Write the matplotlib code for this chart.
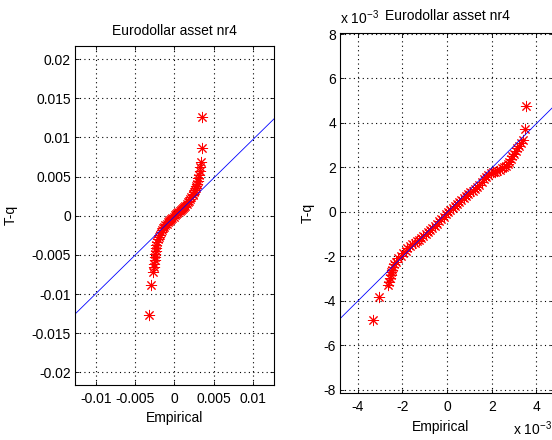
import numpy as np
import matplotlib.pyplot as plt

plt.rcParams['font.family'] = ['Liberation Sans', 'DejaVu Sans']
plt.rcParams['mathtext.fontset'] = 'custom'
plt.rcParams['mathtext.rm'] = 'Liberation Sans'
plt.rcParams['axes.unicode_minus'] = False

title = 'Eurodollar asset nr4'

# left panel, values in units of 1e-3
left_x = [3.5, 3.5, 3.35, 3.25, 3.2, 3.1, 3.05, 2.95, 2.9, 2.8, 2.7, 2.6, 2.5, 2.4,
          2.3, 2.15, 2.0, 1.85, 1.7, 1.55, 1.4, 1.25, 1.1, 0.95, 0.8, 0.65, 0.5, 0.35,
          0.2, 0.05, -0.1, -0.25, -0.4, -0.55, -0.7, -0.85, -1.0, -1.15, -1.3, -1.45,
          -1.6, -1.75, -1.9, -2.0, -2.1, -2.2, -2.3, -2.35, -2.4, -2.45, -2.5, -2.5,
          -2.55, -2.6, -2.7, -3.0, -3.3]
left_y = [12.6, 8.7, 6.9, 6.2, 5.7, 5.2, 4.8, 4.4, 4.1, 3.8, 3.5, 3.25, 3.0, 2.8,
          2.6, 2.35, 2.1, 1.9, 1.7, 1.5, 1.3, 1.15, 1.0, 0.85, 0.7, 0.55, 0.42, 0.3,
          0.17, 0.05, -0.1, -0.25, -0.4, -0.55, -0.7, -0.85, -1.0, -1.2, -1.4, -1.6,
          -1.85, -2.1, -2.4, -2.7, -3.0, -3.35, -3.7, -4.1, -4.5, -4.9, -5.3, -5.7,
          -6.1, -6.6, -7.2, -8.8, -12.7]
left_line_x = [-12.7, 12.7]
left_line_y = [-12.6, 12.4]

# right panel, values in units of 1e-3
right_x = [-3.31, -3.04, -2.64, -2.6, -2.55, -2.52, -2.49, -2.44, -2.4, -2.35, -2.3,
           -2.2, -2.07, -1.95, -1.85, -1.77, -1.65, -1.55, -1.45, -1.35, -1.25, -1.15,
           -1.05, -0.95, -0.85, -0.75, -0.65, -0.55, -0.45, -0.35, -0.25, -0.15, -0.05,
           0.05, 0.15, 0.25, 0.35, 0.45, 0.55, 0.65, 0.75, 0.85, 0.95, 1.05, 1.15, 1.25,
           1.35, 1.45, 1.55, 1.65, 1.75, 1.85, 1.95, 2.05, 2.15, 2.25, 2.35, 2.45, 2.55,
           2.65, 2.72, 2.78, 2.85, 2.92, 3.0, 3.07, 3.15, 3.22, 3.3, 3.4, 3.49, 3.55]
right_y = [-4.87, -3.82, -3.3, -3.15, -3.0, -2.85, -2.72, -2.6, -2.47, -2.35, -2.25,
           -2.1, -1.98, -1.85, -1.75, -1.65, -1.55, -1.47, -1.4, -1.32, -1.25, -1.17,
           -1.08, -1.0, -0.93, -0.83, -0.73, -0.63, -0.53, -0.43, -0.33, -0.22, -0.12,
           -0.02, 0.08, 0.17, 0.26, 0.35, 0.45, 0.55, 0.63, 0.72, 0.8, 0.88, 0.95, 1.03,
           1.12, 1.22, 1.35, 1.47, 1.58, 1.67, 1.73, 1.77, 1.8, 1.85, 1.9, 1.95, 2.0,
           2.06, 2.15, 2.25, 2.37, 2.5, 2.62, 2.72, 2.85, 2.97, 3.1, 3.25, 3.72, 4.77]
right_line_x = [-4.77, 4.75]
right_line_y = [-4.8, 4.72]

left_xticks = [-10, -5, 0, 5, 10]
left_yticks = [-20, -15, -10, -5, 0, 5, 10, 15, 20]
right_xticks = [-4, -2, 0, 2, 4]
right_yticks = [-8, -6, -4, -2, 0, 2, 4, 6, 8]

W, H = 552, 440
fig = plt.figure(figsize=(W / 100, H / 100), dpi=100)
ax1 = fig.add_axes([75 / W, (H - 385) / H, 199.3 / W, 339.3 / H])
ax2 = fig.add_axes([340.3 / W, (H - 393.3) / H, 214 / W, 360.6 / H])

star = (8, 2, 0)


def style(ax, xt, yt, scale):
    ax.set_xticks(xt)
    ax.set_yticks(yt)
    ax.set_xticklabels(['%g' % (v * scale) for v in xt])
    ax.set_yticklabels(['%g' % (v * scale) for v in yt])
    ax.grid(True, color='black', linestyle=(0, (1, 3)), linewidth=0.8)
    ax.tick_params(direction='in', top=True, right=True, length=3, width=0.6,
                   labelsize=10, colors='black')
    ax.tick_params(axis='x', pad=5)
    ax.tick_params(axis='y', pad=3)
    for s in ax.spines.values():
        s.set_linewidth(0.8)
        s.set_color('black')


ax1.plot(left_x, left_y, linestyle='none', marker=star, markersize=8,
         markeredgewidth=0.7, color='red')
ax1.plot(left_line_x, left_line_y, color='blue', linewidth=0.6)
ax1.set_xlim(-12.65, 12.7)
ax1.set_ylim(-21.6, 21.7)
style(ax1, left_xticks, left_yticks, 1e-3)
ax1.set_title(title, fontsize=10, pad=7.5)
ax1.set_xlabel('Empirical', fontsize=10)
ax1.set_ylabel('T-q', fontsize=10)
ax1.xaxis.set_label_coords(0.5, -0.076)
ax1.yaxis.set_label_coords(-0.285, 0.5)

ax2.plot(right_x, right_y, linestyle='none', marker=star, markersize=8,
         markeredgewidth=0.7, color='red')
ax2.plot(right_line_x, right_line_y, color='blue', linewidth=0.6)
ax2.set_xlim(-4.77, 4.8)
ax2.set_ylim(-8.17, 8.06)
style(ax2, right_xticks, right_yticks, 1)
ax2.set_title(title, fontsize=10, pad=9)
ax2.set_xlabel('Empirical', fontsize=10)
ax2.set_ylabel('T-q', fontsize=10)
ax2.xaxis.set_label_coords(0.47, -0.074)
ax2.yaxis.set_label_coords(-0.12, 0.5)
ax2.text(0.0, 1.024, r'x 10$^{-3}$', transform=ax2.transAxes, fontsize=10,
         ha='left', va='baseline')
ax2.text(0.805, -0.116, r'x 10$^{-3}$', transform=ax2.transAxes, fontsize=10,
         ha='left', va='baseline')

fig.savefig('out.png', dpi=100, facecolor='white')
